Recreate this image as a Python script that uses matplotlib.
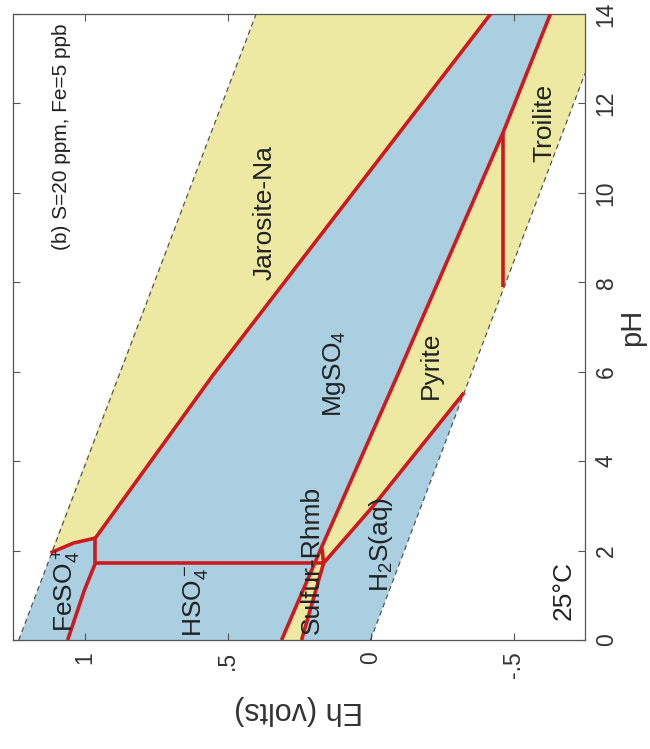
import numpy as np
import matplotlib.pyplot as plt

plt.rcParams['font.family'] = ['Liberation Sans', 'DejaVu Sans']
plt.rcParams['mathtext.default'] = 'regular'

# axes
ph_ticks = [0, 2, 4, 6, 8, 10, 12, 14]
eh_ticks = [1, 0.5, 0, -0.5]
eh_tick_labels = ['1', '.5', '0', '-.5']

# water stability limits (pH, Eh)
upper_water_ph = [0.0, 14.0]
upper_water_eh = [1.23, 0.40]
lower_water_ph = [0.0, 12.67]
lower_water_eh = [0.0, -0.75]

# field boundaries (pH, Eh volts)
jaro_mg_ph = [2.28, 5.93, 14.0]
jaro_mg_eh = [0.962, 0.55, -0.42]
fe_jaro_ph = [1.95, 2.17, 2.28]
fe_jaro_eh = [1.119, 1.038, 0.962]
fe_step_ph = [1.72, 2.28]
fe_step_eh = [0.962, 0.962]
fe_hso4_ph = [0.0, 1.12, 1.72]
fe_hso4_eh = [1.059, 1.0, 0.962]
hso4_mg_ph = [1.72, 1.72]
hso4_mg_eh = [0.962, 0.164]
mg_pyr_ph = [0.0, 2.06, 5.93, 11.34, 14.0]
mg_pyr_eh = [0.311, 0.172, -0.095, -0.463, -0.629]
sulf_ph = [0.0, 1.72]
sulf_eh = [0.241, 0.164]
sulf_step_ph = [1.72, 2.06]
sulf_step_eh = [0.164, 0.170]
pyr_h2s_ph = [1.72, 3.0, 5.53]
pyr_h2s_eh = [0.164, -0.01, -0.327]
pyr_troi_ph = [7.9, 11.34]
pyr_troi_eh = [-0.465, -0.465]

# labels: (text, Eh, pH, size)
labels = [
    ('(b) S=20 ppm, Fe=5 ppb', 1.080, 11.25, 15),
    ('Jarosite-Na', 0.371, 9.55, 19),
    ('MgSO$_4$', 0.126, 5.95, 19),
    ('Pyrite', -0.21, 6.15, 19),
    ('Troilite', -0.608, 11.57, 19),
    ('FeSO$_4^+$', 1.063, 1.12, 19),
    ('HSO$_4^-$', 0.612, 0.89, 19),
    ('Sulfur-Rhmb', 0.206, 1.79, 19),
    ('H$_2$S(aq)', -0.035, 2.13, 19),
    ('25°C', -0.675, 1.1, 19),
]

blue = '#a9cfe1'
yellow = '#ede9a3'
red = '#cc1a1f'

fig = plt.figure(figsize=(6.5, 7.49), dpi=100)
ax = fig.add_axes([0.02, 0.1455, 0.88, 0.8358])

# water stability field
water_ph = np.concatenate([upper_water_ph, [14.0], lower_water_ph[::-1]])
water_eh = np.concatenate([upper_water_eh, [-0.75], lower_water_eh[::-1]])
ax.fill(water_eh, water_ph, color=blue, lw=0, zorder=1)

# jarosite field
jar_ph = np.concatenate([[fe_jaro_ph[0]], [upper_water_ph[1]], jaro_mg_ph[::-1], fe_jaro_ph[::-1]])
jar_eh = np.concatenate([[fe_jaro_eh[0]], [upper_water_eh[1]], jaro_mg_eh[::-1], fe_jaro_eh[::-1]])
ax.fill(jar_eh, jar_ph, color=yellow, lw=0, zorder=2)

# sulfur / pyrite / troilite fields
sp_ph = np.concatenate([mg_pyr_ph, [14.0, lower_water_ph[1], pyr_h2s_ph[-1]],
                        pyr_h2s_ph[::-1], sulf_ph[::-1]])
sp_eh = np.concatenate([mg_pyr_eh, [-0.75, lower_water_eh[1], pyr_h2s_eh[-1]],
                        pyr_h2s_eh[::-1], sulf_eh[::-1]])
ax.fill(sp_eh, sp_ph, color=yellow, lw=0, zorder=2)

for e, p in [(upper_water_eh, upper_water_ph), (lower_water_eh, lower_water_ph)]:
    ax.plot(e, p, color='#555555', lw=0.9, dashes=(4, 3), zorder=3)

for e, p in [(jaro_mg_eh, jaro_mg_ph), (fe_jaro_eh, fe_jaro_ph), (fe_step_eh, fe_step_ph),
             (fe_hso4_eh, fe_hso4_ph), (hso4_mg_eh, hso4_mg_ph), (mg_pyr_eh, mg_pyr_ph),
             (sulf_eh, sulf_ph), (sulf_step_eh, sulf_step_ph), (pyr_h2s_eh, pyr_h2s_ph),
             (pyr_troi_eh, pyr_troi_ph)]:
    ax.plot(e, p, color=red, lw=2.6, solid_capstyle='butt', zorder=4)

for txt, e, p, size in labels:
    ax.text(e, p, txt, rotation=90, ha='center', va='center', fontsize=size,
            color='#222222', zorder=5)

ax.set_xlim(1.25, -0.75)
ax.set_ylim(0, 14)
ax.set_xticks(eh_ticks)
ax.set_xticklabels(eh_tick_labels, rotation=90)
ax.set_yticks(ph_ticks)
ax.set_yticklabels([str(t) for t in ph_ticks], rotation=90, va='center')
ax.tick_params(direction='in', length=5, width=0.8, color='#555555', labelsize=16.5,
               labelcolor='#333333', top=True, right=True, left=True, bottom=True,
               labelleft=False, labelright=True)
ax.tick_params(axis='x', pad=8)
ax.tick_params(axis='y', pad=7)
ax.yaxis.set_label_position('right')
ax.set_ylabel('pH', rotation=90, fontsize=21, color='#333333', labelpad=0)
ax.set_xlabel('Eh (volts)', rotation=180, fontsize=22, color='#333333', labelpad=12)
for s in ax.spines.values():
    s.set_color('#555555')
    s.set_linewidth(0.9)

fig.savefig('out.png', dpi=100, facecolor='white')
